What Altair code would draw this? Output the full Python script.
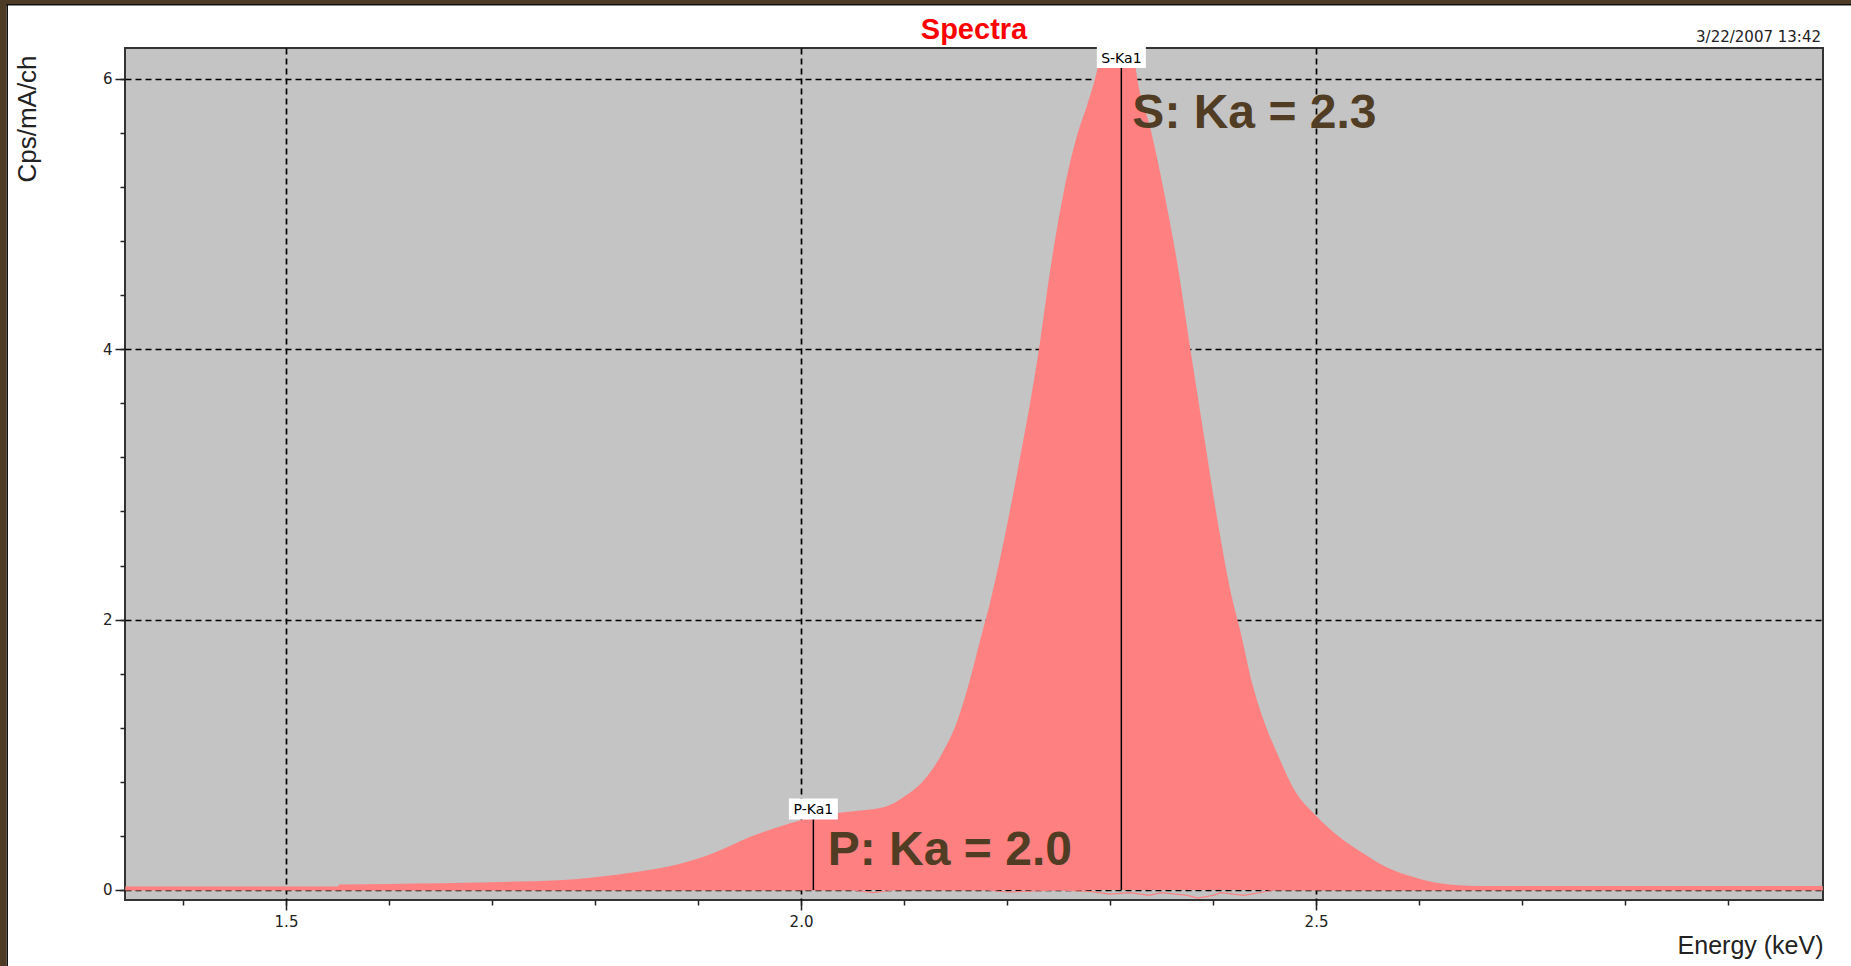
import altair as alt
import pandas as pd

# ---- data ----
energy = [1.344, 1.40, 1.50, 1.55, 1.552, 1.60, 1.65, 1.70, 1.765, 1.802, 1.840, 1.877,
          1.914, 1.951, 1.988, 2.011, 2.044, 2.081, 2.100, 2.119, 2.137, 2.152, 2.163,
          2.174, 2.184, 2.210, 2.231, 2.242, 2.255, 2.268, 2.278, 2.288, 2.297, 2.306,
          2.315, 2.322, 2.3265, 2.339, 2.352, 2.365, 2.378, 2.391, 2.404, 2.417, 2.427,
          2.438, 2.449, 2.464, 2.479, 2.500, 2.523, 2.546, 2.568, 2.597, 2.620, 2.657,
          2.75, 2.85, 2.992]
cps = [0.025, 0.025, 0.025, 0.025, 0.04, 0.045, 0.05, 0.058, 0.072, 0.097, 0.134, 0.183,
       0.27, 0.393, 0.49, 0.54, 0.577, 0.614, 0.69, 0.81, 1.01, 1.255, 1.527,
       1.85, 2.14, 3.09, 4.0, 4.59, 5.16, 5.58, 5.81, 6.08, 6.45, 6.55,
       6.5, 6.25, 6.0, 5.64, 5.18, 4.65, 4.0, 3.37, 2.75, 2.21, 1.90,
       1.53, 1.26, 0.98, 0.74, 0.55, 0.39, 0.27, 0.17, 0.09, 0.05, 0.03,
       0.03, 0.03, 0.03]

resid_energy = [1.344, 2.05, 2.07, 2.09, 2.18, 2.20, 2.25, 2.28, 2.30, 2.32, 2.338, 2.35,
                2.375, 2.385, 2.40, 2.408, 2.43, 2.46, 2.992]
resid_cps = [0.0, 0.0, -0.02, 0.0, 0.0, -0.015, 0.0, -0.01, -0.03, -0.02, -0.04, -0.02,
             -0.04, -0.06, -0.04, -0.02, -0.04, 0.0, 0.0]

peak_names = ["P-Ka1", "S-Ka1"]
peak_energy = [2.012, 2.311]
peak_base = [0.0, 0.0]
peak_top = [0.525, 6.08]
peak_label_y = [0.60, 6.157]

note_text = ["P: Ka = 2.0", "S: Ka = 2.3"]
note_energy = [2.026, 2.3217]
note_cps = [0.185, 5.636]

x_major = [1.5, 2.0, 2.5]
x_minor = [1.4, 1.5, 1.6, 1.7, 1.8, 1.9, 2.0, 2.1, 2.2, 2.3, 2.4, 2.5, 2.6, 2.7, 2.8, 2.9]
y_major = [0, 2, 4, 6]
y_minor = [0, 0.4, 0.8, 1.2, 1.6, 2.0, 2.4, 2.8, 3.2, 3.6, 4.0, 4.4, 4.8, 5.2, 5.6, 6.0]

title_text = ["Spectra"]
date_text = ["3/22/2007 13:42"]
x_title = "Energy (keV)"
y_title = "Cps/mA/ch"

# ---- layout / style ----
W, H = 1698, 852
PAD = {"left": 125, "top": 48, "right": 28, "bottom": 66}
BROWN = "#4e3b25"
PINK = "#ff8080"
TXT = "#222222"

spec_df = pd.DataFrame({"energy": energy, "cps": cps,
                        "base": [0.0] * len(energy)})
resid_df = pd.DataFrame({"energy": resid_energy, "cps": resid_cps})
peak_df = pd.DataFrame({"name": peak_names, "energy": peak_energy, "base": peak_base,
                        "top": peak_top, "label_y": peak_label_y})
note_df = pd.DataFrame({"text": note_text, "energy": note_energy, "cps": note_cps})
one_df = pd.DataFrame({"t": date_text})
title_df = pd.DataFrame({"t": title_text})

xs = alt.Scale(domain=[1.3437, 2.9922], nice=False, zero=False)
ys = alt.Scale(domain=[-0.074, 6.228], nice=False, zero=False)

grid_kw = dict(grid=True, gridDash=[6, 4], gridColor="black", gridWidth=1.7, gridOpacity=1)

x_axis = alt.Axis(values=x_major, format=".1f", orient="bottom", domain=False,
                  tickSize=10, tickWidth=1.5, tickColor=TXT,
                  labelFont="DejaVu Sans", labelFontSize=15, labelColor=TXT, labelPadding=4,
                  title=x_title, titleFont="Liberation Sans", titleFontSize=25,
                  titleFontWeight="normal", titleColor=TXT, titleX=W, titleY=53,
                  titleAlign="right", titleBaseline="alphabetic", **grid_kw)
y_axis = alt.Axis(values=y_major, format="d", orient="left", domain=False,
                  tickSize=10, tickWidth=1.5, tickColor=TXT,
                  labelFont="DejaVu Sans", labelFontSize=15, labelColor=TXT, labelPadding=3,
                  title=y_title, titleFont="Liberation Sans", titleFontSize=26,
                  titleFontWeight="normal", titleColor=TXT, titleX=-98, titleY=70.5,
                  titleAngle=270, titleAlign="center", titleBaseline="middle", **grid_kw)

x_minor_axis = alt.Axis(values=x_minor, orient="bottom", domain=False, grid=False, labels=False,
                        tickSize=5, tickWidth=1.5, tickColor=TXT, title="")
y_minor_axis = alt.Axis(values=y_minor, orient="left", domain=False, grid=False, labels=False,
                        tickSize=5, tickWidth=1.5, tickColor=TXT, title="")

area = alt.Chart(spec_df).mark_area(color=PINK, clip=True, opacity=1,
                                    interpolate="monotone").encode(
    x=alt.X("energy:Q", scale=xs, axis=x_axis),
    y=alt.Y("cps:Q", scale=ys, axis=y_axis),
    y2=alt.Y2("base:Q"),
)

minor = alt.Chart(spec_df).mark_point(opacity=0).encode(
    x=alt.X("energy:Q", scale=xs, axis=x_minor_axis),
    y=alt.Y("cps:Q", scale=ys, axis=y_minor_axis),
)

axes_part = alt.layer(area, minor).resolve_axis(x="independent", y="independent")

resid = alt.Chart(resid_df).mark_line(color=PINK, strokeWidth=1.2, clip=True).encode(
    x=alt.X("energy:Q", scale=xs, axis=None),
    y=alt.Y("cps:Q", scale=ys, axis=None),
)

rules = alt.Chart(peak_df).mark_rule(color="black", strokeWidth=1.5).encode(
    x=alt.X("energy:Q", scale=xs, axis=None),
    y=alt.Y("top:Q", scale=ys, axis=None),
    y2=alt.Y2("base:Q"),
)

boxes = alt.Chart(peak_df).mark_point(
    shape="M-1,-0.4286H1V0.4286H-1Z", size=2401, filled=True, fill="white",
    strokeWidth=0, opacity=1,
).encode(
    x=alt.X("energy:Q", scale=xs, axis=None),
    y=alt.Y("label_y:Q", scale=ys, axis=None),
)

box_text = alt.Chart(peak_df).mark_text(
    font="DejaVu Sans", fontSize=14, color="black", align="center", baseline="middle", dy=1
).encode(
    x=alt.X("energy:Q", scale=xs, axis=None),
    y=alt.Y("label_y:Q", scale=ys, axis=None),
    text="name:N",
)

notes = alt.Chart(note_df).mark_text(
    font="Liberation Sans", fontSize=48, fontWeight="bold", color="#513c24",
    align="left", baseline="alphabetic",
).encode(
    x=alt.X("energy:Q", scale=xs, axis=None),
    y=alt.Y("cps:Q", scale=ys, axis=None),
    text="text:N",
)

title = alt.Chart(title_df).mark_text(
    font="Liberation Sans", fontSize=29, fontWeight="bold", color="#ff0000", align="center",
    baseline="alphabetic",
).encode(x=alt.value(W / 2), y=alt.value(-9), text="t:N")

date = alt.Chart(one_df).mark_text(
    font="DejaVu Sans", fontSize=15, color=TXT, align="right", baseline="alphabetic"
).encode(x=alt.value(W - 2), y=alt.value(-6), text="t:N")

# window frame (brown bars on the top and left edges)
frame_top = alt.Chart(one_df).mark_rect(color=BROWN).encode(
    x=alt.value(-PAD["left"]), x2=alt.value(W + PAD["right"]),
    y=alt.value(-PAD["top"]), y2=alt.value(-PAD["top"] + 4))
frame_top_line = alt.Chart(one_df).mark_rect(color="#111111").encode(
    x=alt.value(-PAD["left"] + 6), x2=alt.value(W + PAD["right"]),
    y=alt.value(-PAD["top"] + 4), y2=alt.value(-PAD["top"] + 5.5))
frame_left = alt.Chart(one_df).mark_rect(color=BROWN).encode(
    x=alt.value(-PAD["left"]), x2=alt.value(-PAD["left"] + 6.5),
    y=alt.value(-PAD["top"]), y2=alt.value(H + PAD["bottom"]))
frame_left_line = alt.Chart(one_df).mark_rect(color="#111111").encode(
    x=alt.value(-PAD["left"] + 6.5), x2=alt.value(-PAD["left"] + 8),
    y=alt.value(-PAD["top"] + 4), y2=alt.value(H + PAD["bottom"]))

chart = alt.layer(
    axes_part, resid, rules, boxes, box_text, notes, title, date,
    frame_top, frame_top_line, frame_left, frame_left_line,
).properties(
    width=W, height=H,
    padding=PAD,
    autosize=alt.AutoSizeParams(type="none"),
    background="white",
).configure_view(fill="#c4c4c4", stroke="#333333", strokeWidth=2)

chart.save("out.html", embed_options={"renderer": "svg", "actions": False})
